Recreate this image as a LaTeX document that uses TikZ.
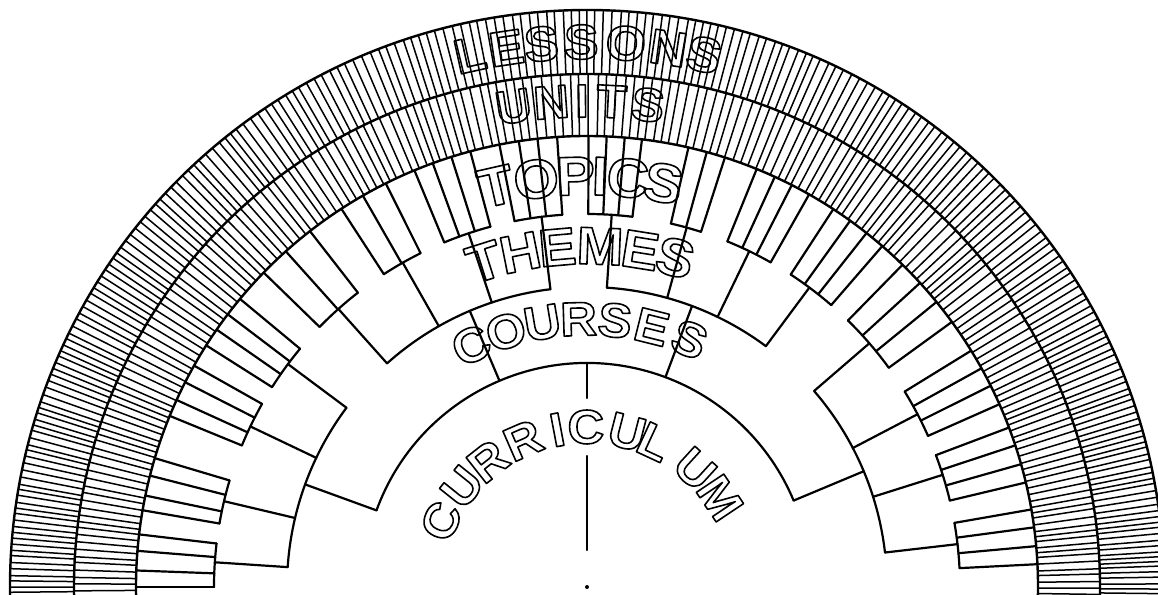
\documentclass[tikz,border=0pt]{standalone}
\usepackage{fontspec}
\newfontfamily\wordfont{Liberation Sans}[FakeStretch=1.06]
\tikzstyle{branch}=[line width=2.2pt, line cap=round, line join=round]
\tikzstyle{ring}=[line width=2.4pt]
\tikzstyle{spoke}=[line width=1.5pt]
\tikzstyle{letter}=[inner sep=0pt, anchor=center]
% hollow (stroked only) capitals
\newcommand\hollow[1]{\special{pdf:literal direct 1 Tr 1.6 w 1 j}#1}

\begin{document}
\begin{tikzpicture}[x=1pt, y=1pt]
  \useasboundingbox (-587,-7) rectangle (571,587);
  \clip (-587,-7) rectangle (571,587);

  % curriculum
  \fill (0,0) circle (2);
  \draw[branch] (90:37) -- (90:131) (90:189) -- (90:224);
  \draw[branch] (160:224) arc[start angle=160, end angle=22.7, radius=224];

  % courses
  \foreach \c/\a/\b in {160/176.2/143.3, 113/131.8/97, 69.5/86.2/53.4, 22.7/40.8/6.6}{
    \draw[branch] (\c:224) -- (\c:300);
    \draw[branch] (\a:300) arc[start angle=\a, end angle=\b, radius=300];
  }

  % themes and topics
  \foreach \th/\lo/\hi/\tops in {
      176.2/173.3/180/{173.3,175.4,177.9,180},
      166.7/163.4/170.2/{163.4,165.7,168.3,170.2},
      154.5/150.6/157.7/{150.6,153,155.5,157.7},
      143.3/140.3/147.6/{140.3,142.8,145.2,147.6},
      131.8/127.9/135.8/{127.9,131.9,135.8},
      119.6/116.5/123/{116.5,119.8,123},
      108.5/105/112.5/{105,107.5,110,112.5},
      97/93.8/101.2/{93.8,96.3,98.7,101.2},
      86.2/83/89.8/{83,85.2,87.5,89.8},
      74.5/72.2/77/{72.2,74.6,77},
      64.2/60.5/67.9/{60.5,63,65.4,67.9},
      53.4/49.1/56.9/{49.1,51.7,54.3,56.9},
      40.8/36/45.6/{36,39.2,42.4,45.6},
      27.6/23.9/31.6/{23.9,26.5,29,31.6},
      17.5/13.4/20.7/{13.4,15.8,18.3,20.7},
      6.6/2.9/9.9/{2.9,5.2,7.6,9.9}}{
    \draw[branch] (\th:300) -- (\th:373);
    \draw[branch] (\lo:373) arc[start angle=\lo, end angle=\hi, radius=373];
    \foreach \t in \tops
      \draw[branch] (\t:373) -- (\t:451);
  }

  % units and lessons rings
  \foreach \r in {451,513,577}
    \draw[ring] (-2:\r) arc[start angle=-2, end angle=182, radius=\r];
  \pgfmathsetseed{12}
  \xdef\uang{-1.5}
  \foreach \i in {1,...,240}{
    \pgfmathsetmacro\uang{\uang+0.72+0.3*sin(\uang)+0.3*(rnd-0.5)}
    \xdef\uang{\uang}
    \draw[spoke] (\uang:451) -- (\uang:513);
  }
  \xdef\lang{-1.2}
  \foreach \i in {1,...,300}{
    \pgfmathsetmacro\lang{\lang+0.56+0.3*sin(\lang)+0.25*(rnd-0.5)}
    \xdef\lang{\lang}
    \draw[spoke] (\lang:513) -- (\lang:577);
  }

  % words
  \foreach \ch/\ang [count=\k] in {L/102.4,E/98.5,S/94.8,S/90.6,O/85.9,N/81.4,S/77.6}
    \node[letter, rotate=\ang-90, font=\wordfont\bfseries\fontsize{49}{49}\selectfont] (lessons\k) at (\ang:545) {\hollow{\ch}};
  \foreach \ch/\ang [count=\k] in {U/98.7,N/94.2,I/90.6,T/87.1,S/82.8}
    \node[letter, rotate=\ang-90, font=\wordfont\bfseries\fontsize{47}{47}\selectfont] (units\k) at (\ang:486) {\hollow{\ch}};
  \foreach \ch/\ang [count=\k] in {T/102.8,O/97.1,P/91.6,I/88.2,C/84.3,S/79.3}
    \node[letter, rotate=\ang-90, font=\wordfont\bfseries\fontsize{55}{55}\selectfont] (topics\k) at (\ang:411) {\hollow{\ch}};
  \foreach \ch/\ang [count=\k] in {T/107.5,H/101.3,E/95,M/87.8,E/81,S/75}
    \node[letter, rotate=\ang-90, font=\wordfont\bfseries\fontsize{53}{53}\selectfont] (themes\k) at (\ang:341) {\hollow{\ch}};
  \foreach \ch/\ang [count=\k] in {C/115.6,O/107.6,U/99.6,R/91.8,S/84,E/76,S/67.5}
    \node[letter, rotate=\ang-90, font=\wordfont\bfseries\fontsize{48}{48}\selectfont] (courses\k) at (\ang:268) {\hollow{\ch}};
  \foreach \ch/\ang [count=\k] in {C/155.7,U/141.3,R/128.2,R/113.5,I/100.7,C/90.4,U/75.5,L/65.1,U/47.6,M/33.8}
    \node[letter, rotate=\ang-90, font=\wordfont\bfseries\fontsize{48}{48}\selectfont] (curriculum\k) at (\ang:160) {\hollow{\ch}};
\end{tikzpicture}
\end{document}
